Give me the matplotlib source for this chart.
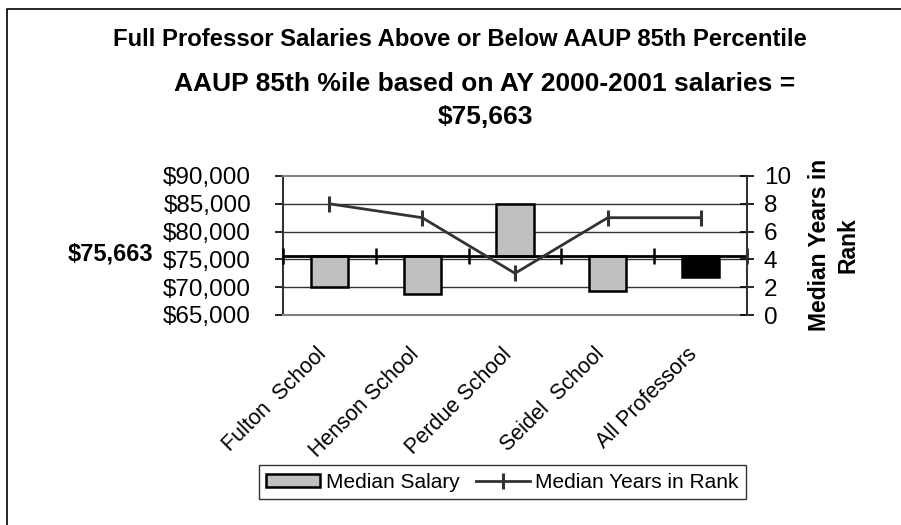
import matplotlib
matplotlib.use("Agg")
import matplotlib.pyplot as plt
from matplotlib.lines import Line2D
from matplotlib.patches import Patch
import numpy as np

plt.rcParams['font.family'] = ['Liberation Sans', 'DejaVu Sans']

categories = ["Fulton  School", "Henson School", "Perdue School", "Seidel  School", "All Professors"]
median_salary = [70100, 68700, 85000, 69300, 71900]
median_years = [8, 7, 3, 7, 7]
baseline = 75663
salary_ticks = [65000, 70000, 75000, 80000, 85000, 90000]
salary_labels = ["$65,000", "$70,000", "$75,000", "$80,000", "$85,000", "$90,000"]
year_ticks = [0, 2, 4, 6, 8, 10]
bar_colors = ["#c0c0c0", "#c0c0c0", "#c0c0c0", "#c0c0c0", "#000000"]

W, H = 901, 525
fig = plt.figure(figsize=(W / 100, H / 100), dpi=100)

def px(x0, y0, x1, y1):
    return [x0 / W, 1 - y1 / H, (x1 - x0) / W, (y1 - y0) / H]

ax = fig.add_axes(px(283, 176, 747, 315))
n = len(categories)
x = np.arange(n)
heights = [v - baseline for v in median_salary]
ax.bar(x, heights, bottom=baseline, width=0.4, color=bar_colors,
       edgecolor="black", linewidth=1.8, zorder=3)
ax.set_xlim(-0.5, n - 0.5)
ax.set_ylim(65000, 90000)
ax.set_yticks(salary_ticks)
ax.set_yticklabels(salary_labels, fontsize=17.5)
ax.tick_params(axis='y', direction='out', length=6, width=1.2, pad=17, colors='black')
ax.set_xticks([])
for y in [70000, 75000, 80000, 85000]:
    ax.axhline(y, color="#333333", linewidth=1.0, zorder=1)
for s in ['top', 'bottom']:
    ax.spines[s].set_color('#808080')
    ax.spines[s].set_linewidth(1.5)
ax.spines['left'].set_linewidth(1.5)
ax.spines['left'].set_color('#333333')
ax.spines['right'].set_visible(False)

# category axis at baseline
ax.axhline(baseline, color="black", linewidth=2.0, zorder=4)
bounds = np.arange(n + 1) - 0.5
ax.plot(bounds, [baseline] * len(bounds), linestyle='none', marker='|',
        markersize=11, markeredgewidth=1.8, color='black', zorder=4, clip_on=False)

for i, lab in enumerate(categories):
    ax.text(i - 0.07, -0.26, lab, transform=ax.get_xaxis_transform(),
            rotation=45, rotation_mode='anchor', ha='right', va='center', fontsize=15.5)

ax2 = ax.twinx()
ax2.plot(x, median_years, color="#333333", linewidth=2.0, marker='|',
         markersize=11, markeredgewidth=2.2, zorder=5)
ax2.set_ylim(0, 10)
ax2.set_yticks(year_ticks)
ax2.tick_params(axis='y', direction='inout', length=10, width=1.2, pad=7, labelsize=17.5)
for s in ['top', 'bottom', 'left']:
    ax2.spines[s].set_visible(False)
ax2.spines['right'].set_linewidth(1.5)
ax2.spines['right'].set_color('#333333')

fig.text(834 / W, 1 - 245 / H, "Median Years in\nRank", rotation=90, ha='center', va='center',
         fontsize=16.5, fontweight='bold', linespacing=1.3, multialignment='center')

fig.text(153 / W, 1 - 253.5 / H, "$75,663", ha='right', va='center', fontsize=17, fontweight='bold')

fig.text(460 / W, 1 - 40 / H, "Full Professor Salaries Above or Below AAUP 85th Percentile",
         ha='center', va='center', fontsize=17.2, fontweight='bold')
fig.text(485 / W, 1 - 84 / H, "AAUP 85th %ile based on AY 2000-2001 salaries =",
         ha='center', va='center', fontsize=19, fontweight='bold')
fig.text(485 / W, 1 - 116.5 / H, "$75,663",
         ha='center', va='center', fontsize=19, fontweight='bold')

handles = [Patch(facecolor="#c0c0c0", edgecolor="black", linewidth=1.8),
           Line2D([], [], color="#333333", linewidth=2.0, marker='|', markersize=11, markeredgewidth=2.2)]
leg = fig.legend(handles, ["Median Salary", "Median Years in Rank"], loc='center',
                 bbox_to_anchor=(502.5 / W, 1 - 482 / H), ncol=2, fontsize=15,
                 frameon=True, fancybox=False, edgecolor='black', handlelength=2.6,
                 handleheight=0.6, handletextpad=0.25, columnspacing=0.8,
                 borderpad=0.35, borderaxespad=0)
leg.get_frame().set_linewidth(1.0)

fig.add_artist(Line2D([7 / W, 7 / W, 1.0], [0.0, 1 - 9 / H, 1 - 9 / H],
                      transform=fig.transFigure, color='black', linewidth=1.2))

fig.savefig("out.png", dpi=100)
